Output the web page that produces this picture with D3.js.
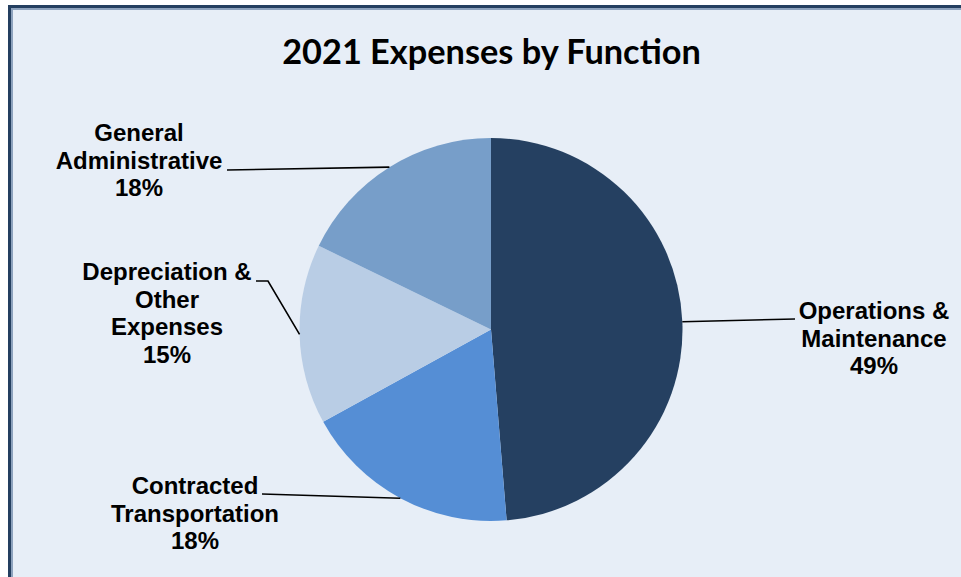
<!DOCTYPE html>
<html lang="en">
<head>
    <meta charset="UTF-8">
    <title>2021 Expenses by Function</title>
    <script src="https://d3js.org/d3.v7.min.js"></script>
    <style>
        body { margin: 0; background: #ffffff; }
        .title { font-family: Lato, "Open Sans", sans-serif; font-weight: 700; font-size: 34.3px; fill: #000; }
        .label { font-family: "Liberation Sans", Arial, sans-serif; font-weight: 700; font-size: 24px; fill: #000; }
        .leader { stroke: #000; stroke-width: 1.6px; fill: none; }
    </style>
</head>
<body>
    <svg id="svg" width="961" height="577"></svg>
    <script>
        // Expense shares (percent), clockwise from 12 o'clock
        const categories = ["Operations & Maintenance", "Contracted Transportation", "Depreciation & Other Expenses", "General Administrative"];
        const values = [48.7, 18.3, 15.2, 17.8];
        const labelLines = [
            ["Operations &", "Maintenance"],
            ["Contracted", "Transportation"],
            ["Depreciation &", "Other", "Expenses"],
            ["General", "Administrative"]
        ];
        const colors = ["#254061", "#558ed5", "#b9cde5", "#779ec9"];

        const width = 961;
        const height = 577;
        const cx = 491, cy = 329.5, radius = 191.5;

        // label placement: text centre x, first baseline y, leader end, optional elbow
        const labelLayout = [
            {x: 874, y: 319, end: [795, 319]},
            {x: 195, y: 494, end: [262, 494]},
            {x: 167, y: 280, end: [256, 281], elbow: [268, 281]},
            {x: 139, y: 141, end: [227, 170]}
        ];
        const lineHeight = 27.6;

        const svg = d3.select("#svg");

        // frame
        svg.append("rect")
            .attr("x", 9.5).attr("y", 6.5)
            .attr("width", width + 20).attr("height", height + 20)
            .attr("fill", "#e7eef7")
            .attr("stroke", "#243f60")
            .attr("stroke-width", 3);
        svg.append("rect")
            .attr("x", 12).attr("y", 9)
            .attr("width", width + 20).attr("height", height + 20)
            .attr("fill", "none")
            .attr("stroke", "#8da2bd")
            .attr("stroke-width", 2);

        svg.append("text")
            .attr("class", "title")
            .attr("x", 491.5)
            .attr("y", 64)
            .attr("text-anchor", "middle")
            .text("2021 Expenses by Function");

        const pie = d3.pie().sort(null).value(d => d);
        const arcs = pie(values);
        const arc = d3.arc().innerRadius(0).outerRadius(radius);
        const edge = d3.arc().innerRadius(radius).outerRadius(radius);

        const g = svg.append("g").attr("transform", `translate(${cx},${cy})`);

        g.selectAll("path")
            .data(arcs)
            .enter().append("path")
            .attr("d", arc)
            .attr("fill", (d, i) => colors[i]);

        // leader lines
        svg.append("g")
            .selectAll("path")
            .data(arcs)
            .enter().append("path")
            .attr("class", "leader")
            .attr("d", (d, i) => {
                const p = edge.centroid(d);
                const L = labelLayout[i];
                const pts = [[cx + p[0], cy + p[1]]];
                if (L.elbow) pts.push(L.elbow);
                pts.push(L.end);
                return d3.line()(pts);
            });

        // labels
        const fmt = d3.format(".0f");
        const labels = svg.append("g")
            .selectAll("text")
            .data(arcs)
            .enter().append("text")
            .attr("class", "label")
            .attr("text-anchor", "middle");

        labels.each(function(d, i) {
            const L = labelLayout[i];
            const lines = labelLines[i].concat([fmt(values[i]) + "%"]);
            d3.select(this).selectAll("tspan")
                .data(lines)
                .enter().append("tspan")
                .attr("x", L.x)
                .attr("y", (t, j) => L.y + j * lineHeight)
                .text(t => t);
        });
    </script>
</body>
</html>
